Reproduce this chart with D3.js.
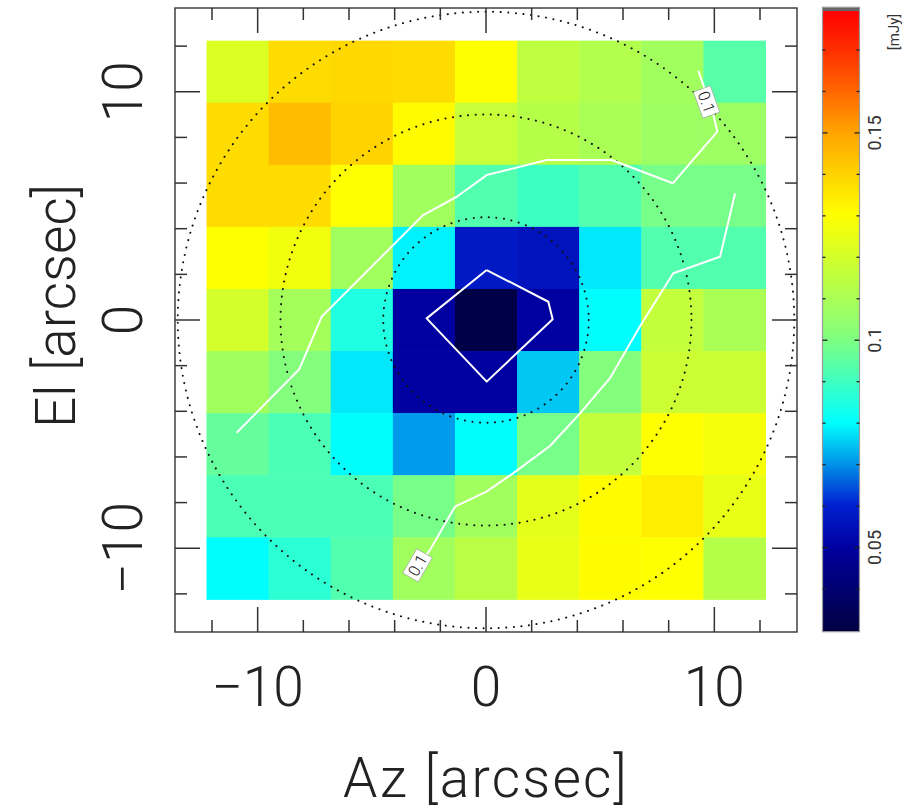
<!DOCTYPE html>
<html><head><meta charset="utf-8">
<script src="https://cdn.jsdelivr.net/npm/d3@7"></script>
<style>html,body{margin:0;padding:0;background:#fff;}svg{display:block;}</style>
</head><body>
<svg id="chart" width="912" height="809"></svg>
<script>
// ---------- DATA ----------
const azCenters = [-10.88, -8.16, -5.44, -2.72, 0, 2.72, 5.44, 8.16, 10.88];
const elCenters = [10.88, 8.16, 5.44, 2.72, 0, -2.72, -5.44, -8.16, -10.88];
const cellSize = 2.72;
// flux [mJy], rows top (El high) to bottom, columns left (Az low) to right
const fluxRows = [
  [0.122, 0.138, 0.139, 0.138, 0.130, 0.115, 0.112, 0.108, 0.094],
  [0.138, 0.145, 0.140, 0.131, 0.117, 0.113, 0.110, 0.107, 0.107],
  [0.138, 0.138, 0.130, 0.108, 0.093, 0.090, 0.093, 0.099, 0.099],
  [0.130, 0.127, 0.108, 0.079, 0.058, 0.056, 0.078, 0.093, 0.093],
  [0.120, 0.109, 0.085, 0.050, 0.031, 0.050, 0.080, 0.116, 0.110],
  [0.108, 0.101, 0.078, 0.050, 0.050, 0.075, 0.101, 0.118, 0.118],
  [0.096, 0.092, 0.080, 0.071, 0.080, 0.099, 0.116, 0.130, 0.128],
  [0.092, 0.092, 0.092, 0.099, 0.108, 0.124, 0.131, 0.134, 0.125],
  [0.080, 0.087, 0.093, 0.108, 0.114, 0.125, 0.131, 0.130, 0.113]
];
// colour map stops
const cmapValues = [0.0297, 0.040, 0.050, 0.0603, 0.070, 0.0801, 0.0903, 0.1004, 0.1101, 0.1202, 0.1303, 0.1403, 0.1504, 0.1605, 0.1705, 0.1794];
const cmapColors = ["#000040", "#000070", "#0000a0", "#0020d0", "#0090e8", "#00ffff", "#40ffc0", "#80ff80", "#aaff55", "#d4ff2a", "#ffff00", "#ffd200", "#ffa200", "#ff6400", "#ff2c00", "#ff0000"];
const cbarMin = 0.0297, cbarMax = 0.1803, cbarOver = 0.1794;
const cbarTicks = [0.04, 0.05, 0.06, 0.07, 0.08, 0.09, 0.10, 0.11, 0.12, 0.13, 0.14, 0.15, 0.16, 0.17];
const cbarLabels = [0.05, 0.1, 0.15];
// axes
const axisTicks = [-12, -10, -8, -6, -4, -2, 0, 2, 4, 6, 8, 10, 12];
const axisLabels = [-10, 0, 10];
// beam circles radii [arcsec]
const circleRadii = [4.5, 9.0, 13.5];
// contours (level 0.1 mJy and inner level)
const contourUpper = [[-10.92,-4.94],[-8.18,-2.16],[-7.20,0.14],[-2.75,4.60],[-1.28,5.40],[0.03,6.35],[2.66,7.01],[5.50,7.01],[8.18,5.99],[10.13,8.25],[9.94,9.07],[9.30,10.92]];
const contourLower = [[-2.98,-10.78],[-2.45,-10.07],[-1.36,-8.18],[0.0,-7.53],[1.20,-6.71],[2.80,-5.52],[4.12,-4.09],[5.43,-2.55],[6.75,-0.26],[8.20,2.05],[10.25,2.77],[10.91,5.55]];
const contourInner = [[0.03,2.19],[2.73,0.80],[2.92,0.03],[0.03,-2.70],[-2.60,0.07],[0.03,2.19]];
const contourLabels = [{text:"0.1", x:9.66, y:9.55, angle:70}, {text:"0.1", x:-3.0, y:-10.75, angle:-60}];

// ---------- DRAW ----------
const svg = d3.select("#chart");
const x = d3.scaleLinear().domain([-13.62, 13.62]).range([175, 797]);
const y = d3.scaleLinear().domain([-13.67, 13.67]).range([632, 8]);
const color = d3.scaleLinear().domain(cmapValues).range(cmapColors).interpolate(d3.interpolateRgb).clamp(true);

svg.append("defs").append("clipPath").attr("id","plotclip")
  .append("rect").attr("x",175).attr("y",8).attr("width",622).attr("height",624);

// cells
const cells = [];
fluxRows.forEach((row, i) => row.forEach((v, j) => cells.push({az: azCenters[j], el: elCenters[i], v})));
svg.append("g").selectAll("rect").data(cells).join("rect")
  .attr("x", d => x(d.az - cellSize/2))
  .attr("y", d => y(d.el + cellSize/2))
  .attr("width", d => x(d.az + cellSize/2) - x(d.az - cellSize/2) + 0.5)
  .attr("height", d => y(d.el - cellSize/2) - y(d.el + cellSize/2) + 0.5)
  .attr("fill", d => color(d.v));

// circles
svg.append("g").attr("clip-path","url(#plotclip)").selectAll("circle").data(circleRadii).join("circle")
  .attr("cx", x(0)).attr("cy", y(0))
  .attr("r", d => x(d) - x(0))
  .attr("fill","none").attr("stroke","#111").attr("stroke-width",2)
  .attr("stroke-linecap","round").attr("stroke-dasharray","0.1,7.5");

// contours
const line = d3.line().x(d => x(d[0])).y(d => y(d[1]));
svg.append("g").selectAll("path").data([contourUpper, contourLower, contourInner]).join("path")
  .attr("d", line).attr("fill","none").attr("stroke","#fff").attr("stroke-width",2)
  .attr("stroke-linejoin","round");

const lab = svg.append("g").selectAll("g").data(contourLabels).join("g")
  .attr("transform", d => `translate(${x(d.x)},${y(d.y)}) rotate(${d.angle})`);
lab.append("rect").attr("x",-14).attr("y",-9).attr("width",28).attr("height",18)
  .attr("fill","#fff").attr("stroke","#999").attr("stroke-width",0.6);
lab.append("text").text(d => d.text).attr("text-anchor","middle").attr("dy","0.36em")
  .attr("font-family","Roboto, sans-serif").attr("font-weight",300).attr("font-size",16).attr("fill","#111");

// frame
svg.append("rect").attr("x",175).attr("y",8).attr("width",622).attr("height",624)
  .attr("fill","none").attr("stroke","#333").attr("stroke-width",1.4);

// ticks
const tg = svg.append("g").attr("stroke","#333").attr("stroke-width",1.5);
const tl = d => axisLabels.includes(d) ? 25 : 12;
tg.selectAll(".tb").data(axisTicks).join("line").attr("x1", d => x(d)).attr("x2", d => x(d)).attr("y1",632).attr("y2", d => 632 - tl(d));
tg.selectAll(".tt").data(axisTicks).join("line").attr("x1", d => x(d)).attr("x2", d => x(d)).attr("y1",8).attr("y2", d => 8 + tl(d));
tg.selectAll(".tl").data(axisTicks).join("line").attr("y1", d => y(d)).attr("y2", d => y(d)).attr("x1",175).attr("x2", d => 175 + tl(d));
tg.selectAll(".tr").data(axisTicks).join("line").attr("y1", d => y(d)).attr("y2", d => y(d)).attr("x1",797).attr("x2", d => 797 - tl(d));

const fmt = d => d < 0 ? "\u2212" + Math.abs(d) : String(d);
const bigFont = {family: "Roboto, sans-serif", weight: 300, size: 55};
svg.append("g").selectAll("text").data(axisLabels).join("text")
  .attr("x", d => x(d)).attr("y", 706).attr("text-anchor","middle")
  .attr("font-family", bigFont.family).attr("font-weight", bigFont.weight).attr("font-size", bigFont.size)
  .attr("fill","#222").text(fmt);
svg.append("g").selectAll("text").data(axisLabels).join("text")
  .attr("transform", d => `translate(142,${y(d)}) rotate(-90)`).attr("text-anchor","middle")
  .attr("font-family", bigFont.family).attr("font-weight", bigFont.weight).attr("font-size", bigFont.size)
  .attr("fill","#222").text(fmt);

svg.append("text").attr("x",486).attr("y",797).attr("text-anchor","middle")
  .attr("font-family", bigFont.family).attr("font-weight", bigFont.weight).attr("font-size", bigFont.size)
  .attr("letter-spacing", 2.2).attr("fill","#222").text("Az [arcsec]");
svg.append("text").attr("transform","translate(75,306) rotate(-90)").attr("text-anchor","middle")
  .attr("font-family", bigFont.family).attr("font-weight", bigFont.weight).attr("font-size", bigFont.size)
  .attr("fill","#222").text("El [arcsec]");

// colour bar
const cy = d3.scaleLinear().domain([cbarMin, cbarMax]).range([631.7, 7.3]);
const grad = svg.select("defs").append("linearGradient").attr("id","cbar")
  .attr("x1",0).attr("y1",1).attr("x2",0).attr("y2",0);
grad.selectAll("stop").data(cmapValues).join("stop")
  .attr("offset", d => (d - cbarMin)/(cbarOver - cbarMin))
  .attr("stop-color", (d,i) => cmapColors[i]);
const cbx = 822.5, cbw = 37;
svg.append("rect").attr("x",cbx).attr("y",cy(cbarOver)).attr("width",cbw).attr("height",cy(cbarMin)-cy(cbarOver)).attr("fill","url(#cbar)");
svg.append("rect").attr("x",cbx).attr("y",cy(cbarMax)).attr("width",cbw).attr("height",cy(cbarOver)-cy(cbarMax)).attr("fill","#666");
svg.append("rect").attr("x",cbx).attr("y",cy(cbarMax)).attr("width",cbw).attr("height",cy(cbarMin)-cy(cbarMax))
  .attr("fill","none").attr("stroke","#999").attr("stroke-width",1.2);
const ctg = svg.append("g").attr("stroke","#222").attr("stroke-width",1.3);
const ctl = d => cbarLabels.some(l => Math.abs(l-d) < 1e-6) ? 5 : 3;
ctg.selectAll(".a").data(cbarTicks).join("line").attr("x1",cbx).attr("x2", d => cbx + ctl(d)).attr("y1", d => cy(d)).attr("y2", d => cy(d));
ctg.selectAll(".b").data(cbarTicks).join("line").attr("x1",cbx+cbw).attr("x2", d => cbx + cbw - ctl(d)).attr("y1", d => cy(d)).attr("y2", d => cy(d));
svg.append("g").selectAll("text").data(cbarLabels).join("text")
  .attr("transform", d => `translate(881,${cy(d)}) rotate(-90)`).attr("text-anchor","middle")
  .attr("font-family","Roboto, sans-serif").attr("font-weight",400).attr("font-size",18).attr("fill","#333")
  .text(d => String(d));
svg.append("text").attr("transform","translate(899,32) rotate(-90)").attr("text-anchor","middle")
  .attr("font-family","Roboto, sans-serif").attr("font-weight",400).attr("font-size",15).attr("fill","#333")
  .text("[mJy]");
</script>
</body></html>
